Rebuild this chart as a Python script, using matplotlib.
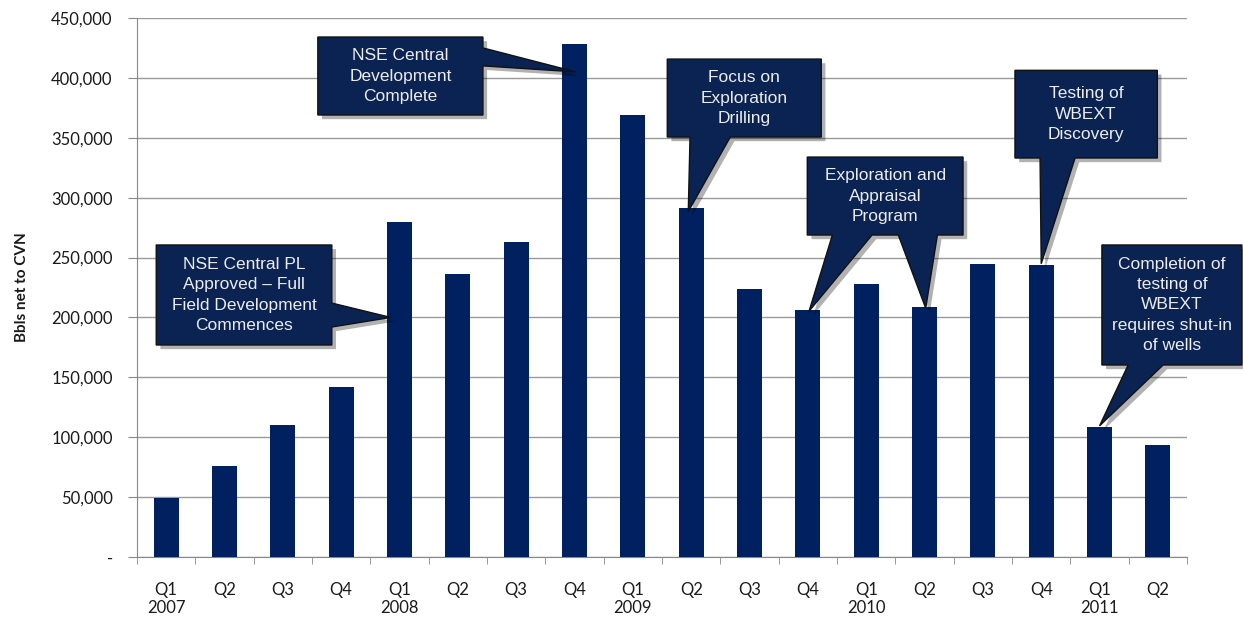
import matplotlib
matplotlib.use("Agg")
import matplotlib.pyplot as plt
import matplotlib.patheffects as pe
from matplotlib.patches import Polygon
from matplotlib.ticker import FuncFormatter, FixedLocator

# quarterly production, barrels net to CVN
quarters = ["Q1", "Q2", "Q3", "Q4"] * 4 + ["Q1", "Q2"]
years = ["2007", "", "", "", "2008", "", "", "", "2009", "", "", "",
         "2010", "", "", "", "2011", ""]
volumes = [49500, 76000, 110200, 142000, 279700, 236300, 263000, 428300,
           369000, 291400, 223800, 206200, 228000, 208700, 244600, 243800,
           108500, 93500]

BAR = "#002060"
BOX = "#0a2352"

fig = plt.figure(figsize=(12.43, 6.2), dpi=100)
ax = fig.add_axes([0.1102, 0.1016, 0.8448, 0.8694])

x = range(len(volumes))
ax.bar(x, volumes, width=0.43, color=BAR, zorder=3)

ax.set_xlim(-0.5, len(volumes) - 0.5)
ax.set_ylim(0, 450000)
ax.set_yticks(range(0, 450001, 50000))
ax.yaxis.set_major_formatter(FuncFormatter(lambda v, p: "-" if v == 0 else f"{v:,.0f}"))
ax.grid(axis="y", color="#9a9a9a", lw=1, zorder=0)

ax.set_xticks(list(x))
ax.set_xticklabels([q + "\n" + y for q, y in zip(quarters, years)])
ax.xaxis.set_minor_locator(FixedLocator([i - 0.5 for i in range(len(volumes) + 1)]))
ax.tick_params(axis="x", which="major", length=0, pad=18)
ax.tick_params(axis="x", which="minor", length=5, color="#888888", direction="out")
ax.tick_params(axis="y", length=6.5, color="#888888", pad=11)
for lab in ax.get_xticklabels() + ax.get_yticklabels():
    lab.set_fontfamily("Lato")
    lab.set_fontsize(12)
    lab.set_color("#1a1a1a")
for lab in ax.get_xticklabels():
    lab.set_linespacing(1.15)

for s in ["top", "right"]:
    ax.spines[s].set_visible(False)
for s in ["left", "bottom"]:
    ax.spines[s].set_color("#888888")

ax.set_ylabel("Bbls net to CVN", fontfamily="Lato", fontweight="bold", fontsize=11,
              color="#1a1a1a", labelpad=16)


def callout(text, box, pointers):
    x0, x1, y0, y1 = box
    verts = [(x0, y1), (x1, y1)]
    for side, a, b, tx, ty in pointers:
        if side == "right":
            verts += [(x1, max(a, b)), (tx, ty), (x1, min(a, b))]
    verts.append((x1, y0))
    for side, a, b, tx, ty in sorted(pointers, key=lambda p: -max(p[1], p[2])):
        if side == "bottom":
            verts += [(max(a, b), y0), (tx, ty), (min(a, b), y0)]
    verts.append((x0, y0))
    poly = Polygon(verts, closed=True, facecolor=BOX, edgecolor="#111111", lw=1,
                   clip_on=False, zorder=5,
                   path_effects=[pe.SimplePatchShadow(offset=(3, -3), shadow_rgbFace="black",
                                                      alpha=0.3),
                                 pe.Normal()])
    ax.add_patch(poly)
    ax.text((x0 + x1) / 2, (y0 + y1) / 2, text, ha="center", va="center",
            fontfamily="Liberation Sans", fontsize=12.5, color="#ececec",
            linespacing=1.45, zorder=6, clip_on=False)


callout("NSE Central PL\nApproved – Full\nField Development\nCommences",
        (-0.17, 2.84, 177000, 260500),
        [("right", 192000, 212000, 4 - 0.15, 200000)])
callout("NSE Central\nDevelopment\nComplete",
        (2.60, 5.43, 369000, 434100),
        [("right", 425000, 410000, 7.02, 405000)])
callout("Focus on\nExploration\nDrilling",
        (8.59, 11.23, 350600, 415700),
        [("bottom", 8.98, 9.67, 9 - 0.05, volumes[9] - 3000)])
callout("Exploration and\nAppraisal\nProgram",
        (10.99, 13.66, 268800, 333900),
        [("bottom", 11.42, 12.10, 11.02, volumes[11] - 1000),
         ("bottom", 12.55, 13.22, 13.02, volumes[13] - 1000)])
callout("Testing of\nWBEXT\nDiscovery",
        (14.55, 16.99, 333100, 406300),
        [("bottom", 14.98, 15.58, 15.0, volumes[15] + 1000)])
callout("Completion of\ntesting of\nWBEXT\nrequires shut-in\nof wells",
        (16.04, 18.44, 160300, 260500),
        [("bottom", 16.49, 17.09, 16.0, volumes[16] + 1000)])

fig.savefig("out.png", dpi=100, facecolor="white")
